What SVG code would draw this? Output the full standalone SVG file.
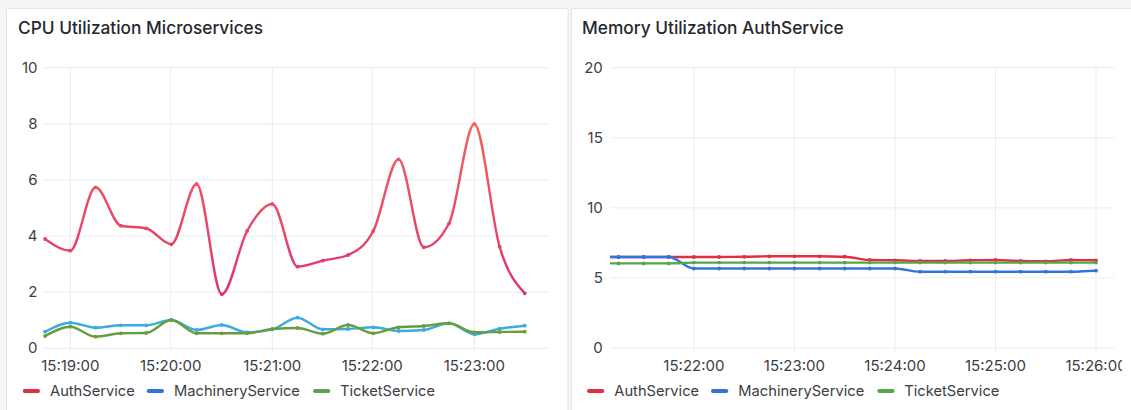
<svg xmlns="http://www.w3.org/2000/svg" width="1131" height="410" viewBox="0 0 1131 410">
  <style>
    text { font-family: Inter, "Liberation Sans", Arial, sans-serif; }
    .panel { fill: #ffffff; stroke: #e3e4e6; stroke-width: 1; }
    .title { font-size: 17.3px; font-weight: 500; fill: #24292e; }
    .tick { font-size: 15px; fill: #3b3e44; }
    .ylab { text-anchor: end; }
    .xlab { text-anchor: middle; }
    .grid { stroke: #ebecee; stroke-width: 1; fill: none; }
    .series { fill: none; stroke-width: 2.4; stroke-linejoin: round; stroke-linecap: round; }
    .pts { fill: none; stroke-width: 3.8; stroke-linecap: round; }
    .swatch { stroke-width: 4; stroke-linecap: round; }
    .legend { font-size: 14.7px; fill: #3b3e44; }
    .auth { stroke: #e02f44; }
    .mach { stroke: #3274d9; }
    .tick-svc { stroke: #56a64b; }
  </style>
  <defs>
    <!-- hue-shifted stroke for the CPU AuthService series (pinker low, coral high) -->
    <linearGradient id="authHue" gradientUnits="userSpaceOnUse" x1="0" y1="348" x2="0" y2="68">
      <stop offset="0" stop-color="#dc2b74"/>
      <stop offset="0.2" stop-color="#e2336b"/>
      <stop offset="0.8" stop-color="#f4615f"/>
      <stop offset="1" stop-color="#f86b58"/>
    </linearGradient>
    <clipPath id="memPlot">
      <rect x="610" y="60" width="504" height="300"/>
    </clipPath>
    <clipPath id="memPanel">
      <rect x="571" y="0" width="551" height="410"/>
    </clipPath>
  </defs>

  <!-- dashboard background -->
  <rect x="0" y="0" width="1131" height="410" fill="#f4f5f5"/>

  <!-- CPU panel -->
  <g id="cpu-panel">
    <rect class="panel" x="6.5" y="8.5" width="561.5" height="410" rx="2"/>
    <text class="title" x="18" y="34.3">CPU Utilization Microservices</text>

    <g id="cpu-grid">
      <path class="grid" d="M43.3,67.7H549.3 M43.3,123.8H549.3 M43.3,179.9H549.3 M43.3,236H549.3 M43.3,292.2H549.3 M43.3,348.3H549.3"/>
      <path class="grid" d="M70.3,67.7V353 M170.7,67.7V353 M272.3,67.7V353 M372.3,67.7V353 M474.3,67.7V353"/>
    </g>

    <g id="cpu-y-axis" class="tick ylab">
      <text x="37.5" y="72.5">10</text>
      <text x="37.5" y="128.5">8</text>
      <text x="37.5" y="184.5">6</text>
      <text x="37.5" y="240.5">4</text>
      <text x="37.5" y="296.7">2</text>
      <text x="37.5" y="352.8">0</text>
    </g>
    <g id="cpu-x-axis" class="tick xlab">
      <text x="70.3" y="370.5">15:19:00</text>
      <text x="170.7" y="370.5">15:20:00</text>
      <text x="272.3" y="370.5">15:21:00</text>
      <text x="372.3" y="370.5">15:22:00</text>
      <text x="474.3" y="370.5">15:23:00</text>
    </g>

    <g id="cpu-series">
      <!-- AuthService -->
      <path class="series" stroke="url(#authHue)" d="M45.1,239 C53.5,244.85 61.9,250.7 70.3,250.7 C78.7,250.7 87.2,187.3 95.6,187.3 C104,187.3 112.4,223.97 120.8,225.7 C129.2,227.43 137.7,226.57 146.1,228.3 C154.5,230.03 162.9,244.3 171.3,244.3 C179.7,244.3 188.2,184 196.6,184 C205,184 213.4,294.3 221.8,294.3 C230.2,294.3 238.7,246.05 247.1,231 C255.5,215.95 263.9,204 272.3,204 C280.7,204 289.2,266.7 297.6,266.7 C306,266.7 314.4,262.65 322.8,260.7 C331.2,258.75 339.7,258.8 348.1,255 C356.5,251.2 364.9,246.95 373.3,231 C381.7,215.05 390.2,159.3 398.6,159.3 C407,159.3 415.4,247.3 423.8,247.3 C432.2,247.3 440.7,239.3 449.1,223.3 C457.5,207.3 465.9,124 474.3,124 C482.7,124 491.2,218.48 499.6,246.7 C508,274.92 516.4,284.1 524.8,293.3"/>
      <path class="pts" stroke="url(#authHue)" d="M45.1,239h0 M70.3,250.7h0 M95.6,187.3h0 M120.8,225.7h0 M146.1,228.3h0 M171.3,244.3h0 M196.6,184h0 M221.8,294.3h0 M247.1,231h0 M272.3,204h0 M297.6,266.7h0 M322.8,260.7h0 M348.1,255h0 M373.3,231h0 M398.6,159.3h0 M423.8,247.3h0 M449.1,223.3h0 M474.3,124h0 M499.6,246.7h0 M524.8,293.3h0"/>
      <!-- MachineryService -->
      <path class="series" stroke="#38abdf" d="M45.1,331.7 C53.5,327.2 61.9,322.7 70.3,322.7 C78.7,322.7 87.2,327.7 95.6,327.7 C104,327.7 112.4,325.3 120.8,325.3 C129.2,325.3 137.7,325.3 146.1,325.3 C154.5,325.3 162.9,320 171.3,320 C179.7,320 188.2,330 196.6,330 C205,330 213.4,325 221.8,325 C230.2,325 238.7,332.3 247.1,332.3 C255.5,332.3 263.9,331.3 272.3,329.3 C280.7,327.3 289.2,317.7 297.6,317.7 C306,317.7 314.4,329.3 322.8,329.3 C331.2,329.3 339.7,329.2 348.1,329 C356.5,328.8 364.9,327.3 373.3,327.3 C381.7,327.3 390.2,331 398.6,331 C407,331 415.4,330.67 423.8,330 C432.2,329.33 440.7,323.3 449.1,323.3 C457.5,323.3 465.9,334.3 474.3,334.3 C482.7,334.3 491.2,330.13 499.6,328.7 C508,327.27 516.4,326.48 524.8,325.7"/>
      <path class="pts" stroke="#38abdf" d="M45.1,331.7h0 M70.3,322.7h0 M95.6,327.7h0 M120.8,325.3h0 M146.1,325.3h0 M171.3,320h0 M196.6,330h0 M221.8,325h0 M247.1,332.3h0 M272.3,329.3h0 M297.6,317.7h0 M322.8,329.3h0 M348.1,329h0 M373.3,327.3h0 M398.6,331h0 M423.8,330h0 M449.1,323.3h0 M474.3,334.3h0 M499.6,328.7h0 M524.8,325.7h0"/>
      <!-- TicketService -->
      <path class="series" stroke="#689d3c" d="M45.1,336 C53.5,331.35 61.9,326.7 70.3,326.7 C78.7,326.7 87.2,336.7 95.6,336.7 C104,336.7 112.4,333.5 120.8,333.3 C129.2,333.1 137.7,333.2 146.1,333 C154.5,332.8 162.9,320 171.3,320 C179.7,320 188.2,333.3 196.6,333.3 C205,333.3 213.4,333.3 221.8,333.3 C230.2,333.3 238.7,333.3 247.1,333.3 C255.5,333.3 263.9,329.67 272.3,329 C280.7,328.33 289.2,328 297.6,328 C306,328 314.4,333.7 322.8,333.7 C331.2,333.7 339.7,325 348.1,325 C356.5,325 364.9,333.3 373.3,333.3 C381.7,333.3 390.2,328.17 398.6,327.3 C407,326.43 415.4,326.67 423.8,326 C432.2,325.33 440.7,323.3 449.1,323.3 C457.5,323.3 465.9,332.3 474.3,332.3 C482.7,332.3 491.2,332.1 499.6,332 C508,331.9 516.4,331.8 524.8,331.7"/>
      <path class="pts" stroke="#689d3c" d="M45.1,336h0 M70.3,326.7h0 M95.6,336.7h0 M120.8,333.3h0 M146.1,333h0 M171.3,320h0 M196.6,333.3h0 M221.8,333.3h0 M247.1,333.3h0 M272.3,329h0 M297.6,328h0 M322.8,333.7h0 M348.1,325h0 M373.3,333.3h0 M398.6,327.3h0 M423.8,326h0 M449.1,323.3h0 M474.3,332.3h0 M499.6,332h0 M524.8,331.7h0"/>
    </g>

    <g id="cpu-legend">
      <line class="swatch auth" x1="24.7" y1="391" x2="38" y2="391"/>
      <text class="legend" x="50" y="396">AuthService</text>
      <line class="swatch mach" x1="148.7" y1="391" x2="162" y2="391"/>
      <text class="legend" x="174" y="396">MachineryService</text>
      <line class="swatch tick-svc" x1="315" y1="391" x2="328.3" y2="391"/>
      <text class="legend" x="340" y="396">TicketService</text>
    </g>
  </g>

  <!-- Memory panel -->
  <g id="memory-panel">
    <rect class="panel" x="571.5" y="8.5" width="580" height="410" rx="2"/>
    <text class="title" x="582" y="34.3">Memory Utilization AuthService</text>

    <g id="mem-grid">
      <path class="grid" d="M611.5,67.7H1114 M611.5,137.8H1114 M611.5,207.9H1114 M611.5,277.9H1114 M611.5,348H1114"/>
      <path class="grid" d="M693.9,67.7V353 M794.4,67.7V353 M895,67.7V353 M995.5,67.7V353 M1096,67.7V353"/>
    </g>

    <g id="mem-y-axis" class="tick ylab">
      <text x="602.8" y="72.5">20</text>
      <text x="602.8" y="142.6">15</text>
      <text x="602.8" y="212.7">10</text>
      <text x="602.8" y="282.7">5</text>
      <text x="602.8" y="352.8">0</text>
    </g>
    <g id="mem-x-axis" class="tick xlab" clip-path="url(#memPanel)">
      <text x="693.9" y="370.5">15:22:00</text>
      <text x="794.4" y="370.5">15:23:00</text>
      <text x="895" y="370.5">15:24:00</text>
      <text x="995.5" y="370.5">15:25:00</text>
      <text x="1096" y="370.5">15:26:00</text>
    </g>

    <g id="mem-series" clip-path="url(#memPlot)">
      <!-- AuthService -->
      <path class="series auth" d="M593.4,257 H719.1 C727.5,257 735.8,256.8 744.2,256.8 S760.9,256.3 769.3,256.3 H819.6 C828,256.3 836.3,256.7 844.7,256.7 S861.4,260 869.8,260 S886.6,260.3 895,260.3 S911.7,261 920.1,261 H945.2 C953.6,261 962,260.3 970.4,260.3 S987.1,260 995.5,260 S1012.2,261 1020.6,261 S1037.3,261.3 1045.7,261.3 S1062.5,260 1070.9,260 S1087.6,260.3 1096,260.3"/>
      <path class="pts auth" d="M618.5,257h0 M643.7,257h0 M668.8,257h0 M693.9,257h0 M719.1,257h0 M744.2,256.8h0 M769.3,256.3h0 M794.4,256.3h0 M819.6,256.3h0 M844.7,256.7h0 M869.8,260h0 M895,260.3h0 M920.1,261h0 M945.2,261h0 M970.4,260.3h0 M995.5,260h0 M1020.6,261h0 M1045.7,261.3h0 M1070.9,260h0 M1096,260.3h0"/>
      <!-- MachineryService -->
      <path class="series mach" d="M593.4,257 H668.8 C677.2,257 685.5,268.5 693.9,268.5 H895 C903.4,268.5 911.7,271.7 920.1,271.7 H1070.9 C1079.3,271.7 1087.6,270.7 1096,270.7"/>
      <path class="pts mach" d="M618.5,257h0 M643.7,257h0 M668.8,257h0 M693.9,268.5h0 M719.1,268.5h0 M744.2,268.5h0 M769.3,268.5h0 M794.4,268.5h0 M819.6,268.5h0 M844.7,268.5h0 M869.8,268.5h0 M895,268.5h0 M920.1,271.7h0 M945.2,271.7h0 M970.4,271.7h0 M995.5,271.7h0 M1020.6,271.7h0 M1045.7,271.7h0 M1070.9,271.7h0 M1096,270.7h0"/>
      <!-- TicketService -->
      <path class="series tick-svc" d="M593.4,263.4 H668.8 C677.2,263.4 685.5,262.6 693.9,262.6 H1096"/>
      <path class="pts tick-svc" d="M618.5,263.4h0 M643.7,263.4h0 M668.8,263.4h0 M693.9,262.6h0 M719.1,262.6h0 M744.2,262.6h0 M769.3,262.6h0 M794.4,262.6h0 M819.6,262.6h0 M844.7,262.6h0 M869.8,262.6h0 M895,262.6h0 M920.1,262.6h0 M945.2,262.6h0 M970.4,262.6h0 M995.5,262.6h0 M1020.6,262.6h0 M1045.7,262.6h0 M1070.9,262.6h0 M1096,262.6h0"/>
    </g>

    <g id="mem-legend">
      <line class="swatch auth" x1="589" y1="391" x2="602.3" y2="391"/>
      <text class="legend" x="614.3" y="396">AuthService</text>
      <line class="swatch mach" x1="713" y1="391" x2="726.3" y2="391"/>
      <text class="legend" x="738.3" y="396">MachineryService</text>
      <line class="swatch tick-svc" x1="879.3" y1="391" x2="892.6" y2="391"/>
      <text class="legend" x="904.3" y="396">TicketService</text>
    </g>
  </g>
</svg>
